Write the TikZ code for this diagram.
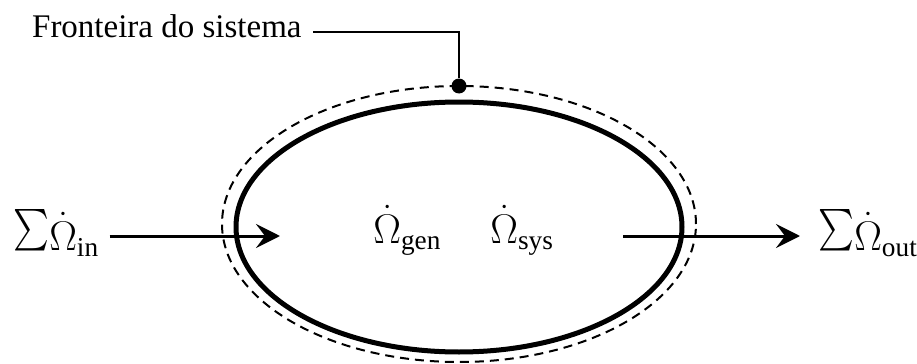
\documentclass[tikz,border=0pt]{standalone}
\usepackage{amsmath}
\usepackage{fontspec}
\setmainfont{Liberation Serif}
\usetikzlibrary{positioning,arrows.meta}
\newcommand{\qsum}{\raisebox{0.24em}{\scalebox{0.82}[1]{$\textstyle\sum$}}}

\begin{document}
\begin{tikzpicture}[x=0.5pt,y=-0.5pt,
  flow/.style={line width=1.5pt,-{Stealth[length=12pt,width=12pt,inset=4.5pt]}},
  qty/.style={inner sep=0,anchor=base west,font=\fontsize{19.5}{23}\selectfont}]
  \useasboundingbox (0,0) rectangle (917,364);

  % system boundary (dashed) and system (solid)
  \coordinate (outer) at (459,224);
  \coordinate (inner) at (459,227);
  \draw[line width=1pt,dash pattern=on 4.5pt off 3pt] (outer) ellipse [x radius=118.5pt,y radius=69pt];
  \draw[line width=2.5pt] (inner) ellipse [x radius=111.5pt,y radius=62.5pt];

  % label with leader line
  \node[anchor=base east,inner sep=0,font=\fontsize{16.5}{19}\selectfont] (lbl) at (302,38) {Fronteira do sistema};
  \node[circle,fill,inner sep=0,minimum size=7.5pt] (bdot) at (459,86) {};
  \draw[line width=0.75pt] ([shift={(11,-6)}]lbl.base east) -| (bdot);

  % quantities
  \node[qty] (qin) at (13,250) {\qsum$\dot{\Omega}_{\text{in}}$};
  \node[qty] (gen) at (373,243) {$\dot{\Omega}_{\text{gen}}$};
  \node[qty] (sys) at (490,243) {$\dot{\Omega}_{\text{sys}}$};
  \node[qty] (qout) at (818,250) {\qsum$\dot{\Omega}_{\text{out}}$};

  % flows in and out
  \coordinate (inend) at (280,236);
  \coordinate (outstart) at (623,236);
  \draw[flow] ([xshift=5pt]qin.east |- inend) -- (inend);
  \draw[flow] (outstart) -- ([xshift=-9pt]qout.west |- outstart);
\end{tikzpicture}
\end{document}
